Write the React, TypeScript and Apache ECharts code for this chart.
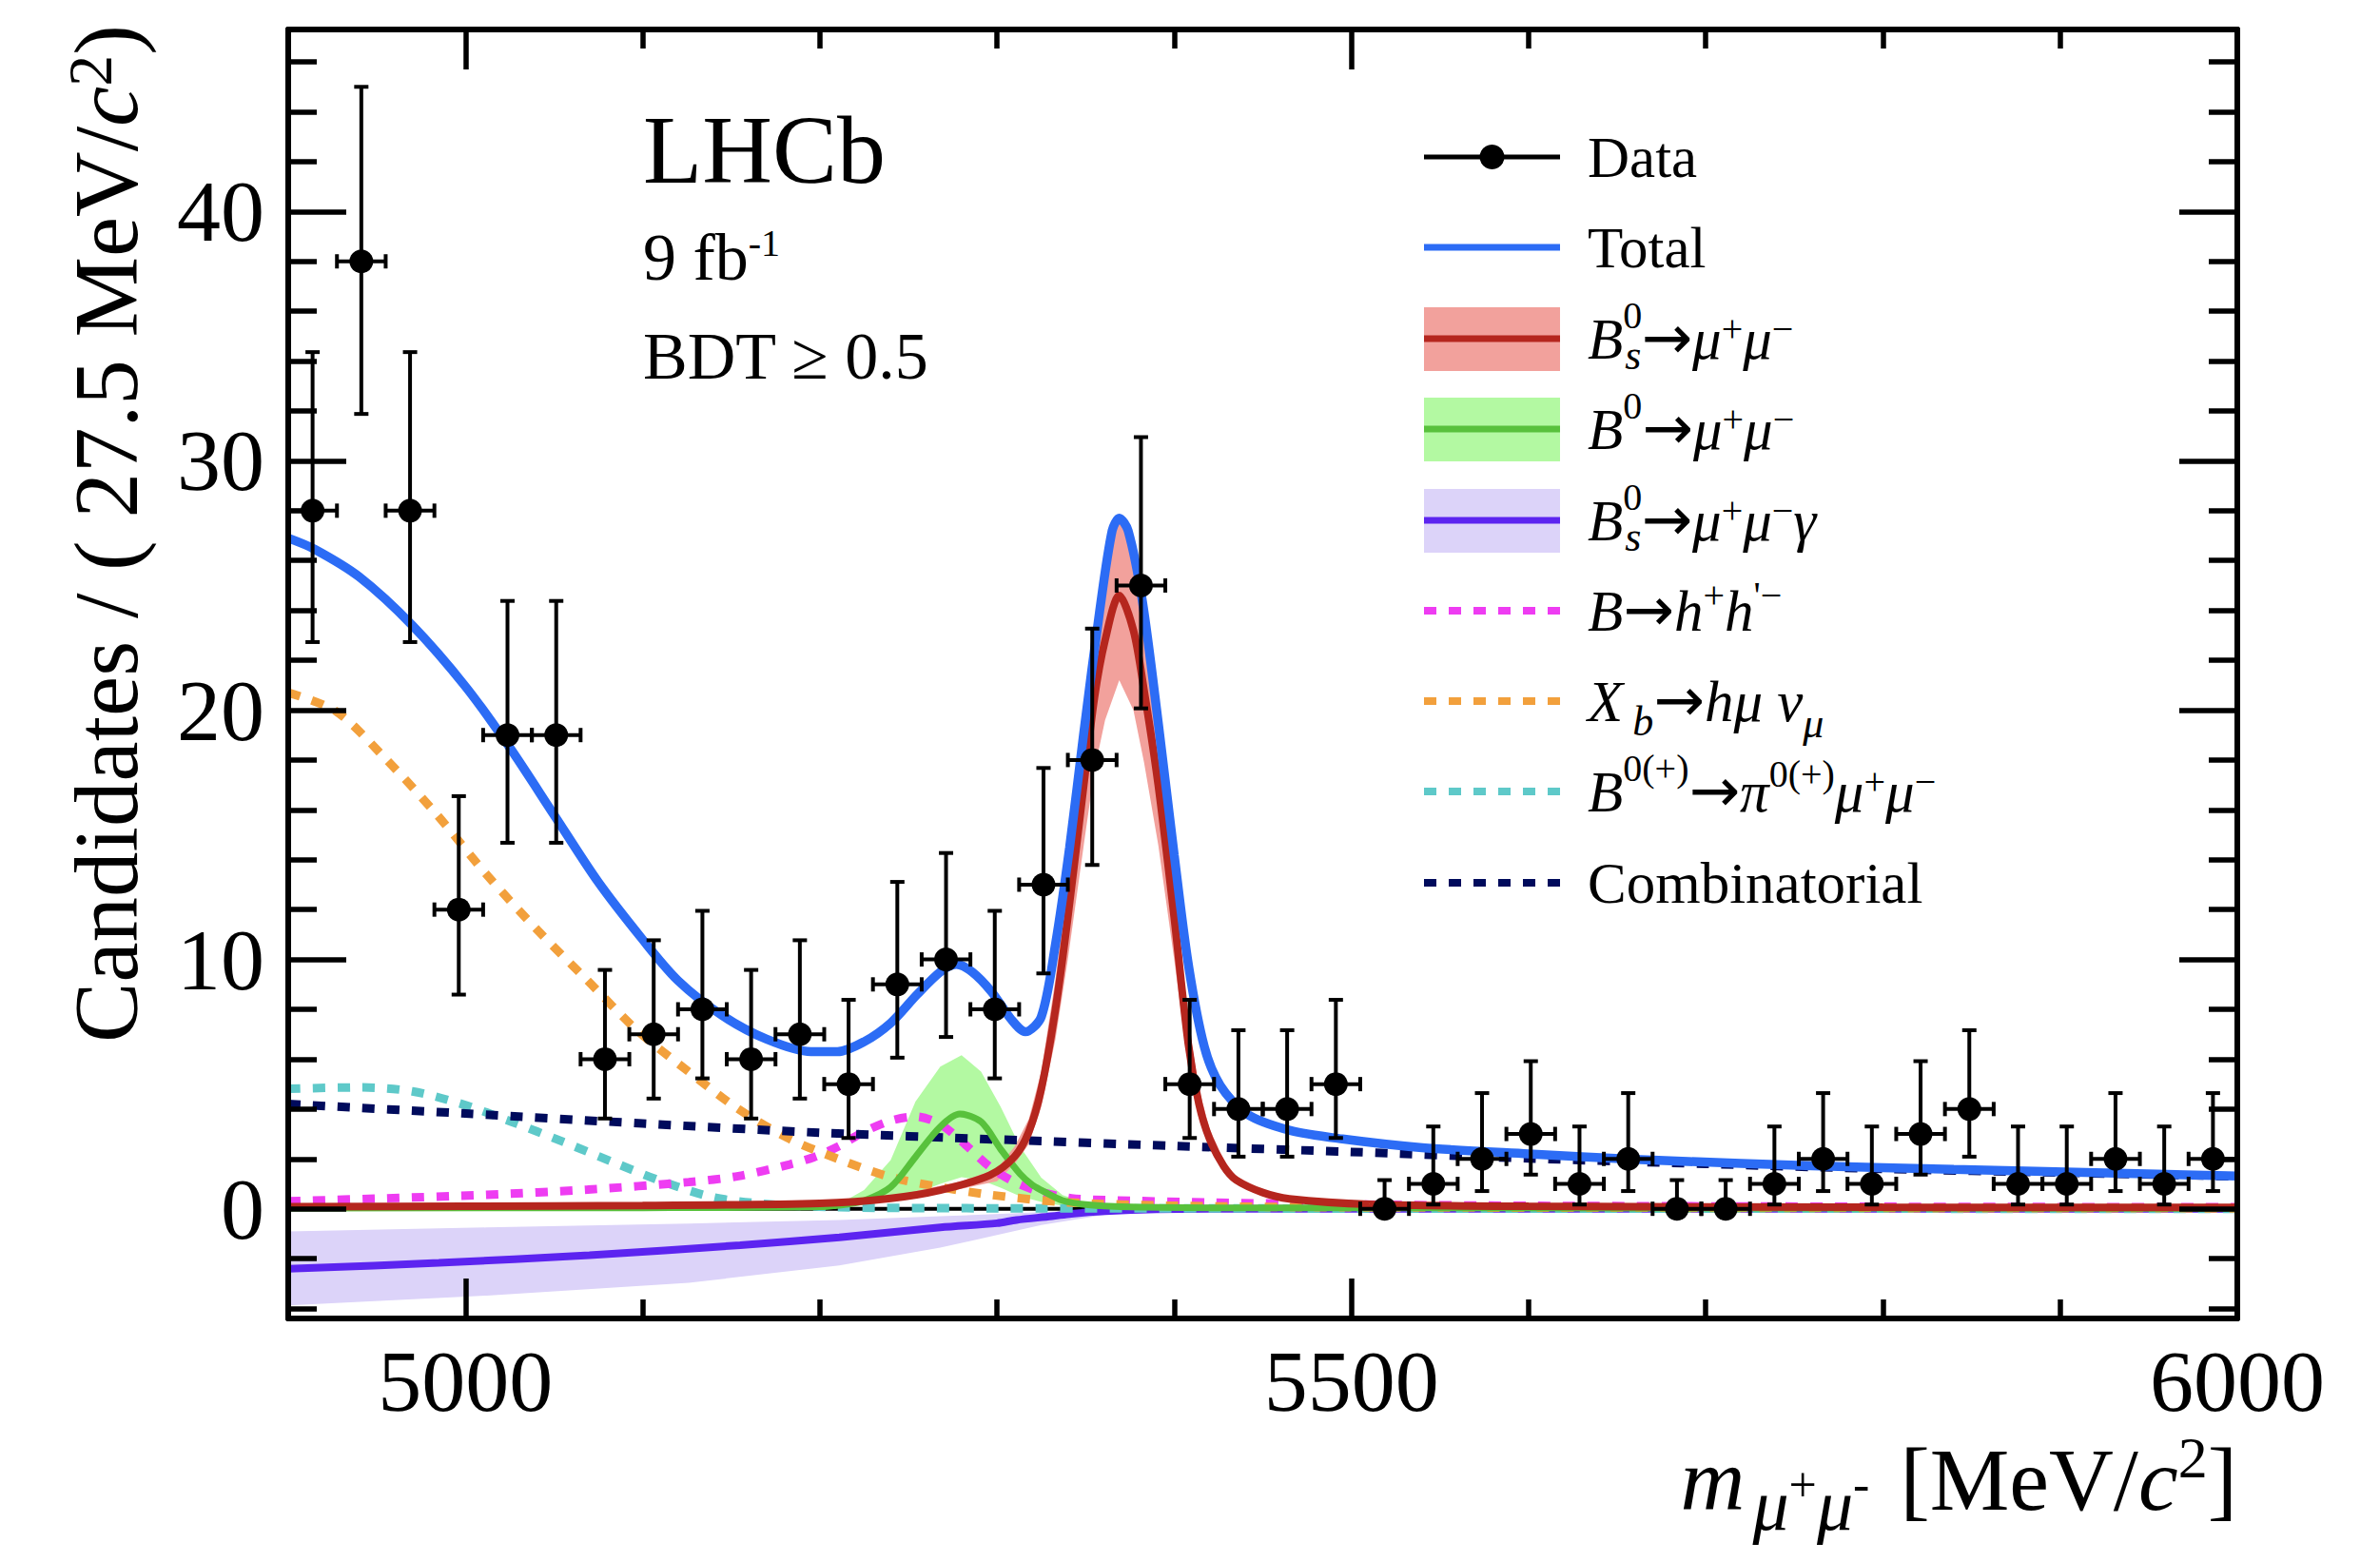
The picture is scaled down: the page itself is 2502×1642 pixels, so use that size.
import React, { useEffect, useRef } from "react";
import * as echarts from "echarts";

const FONT = "'Liberation Serif', 'Times New Roman', serif";
const ARROW_FONT = "'DejaVu Sans', 'Liberation Serif', serif";

// ---- axes ----
const X_MIN = 4900;
const X_MAX = 6000;
const Y_MIN = -4.4;
const Y_MAX = 47.3;
const X_MAJOR = [5000, 5500, 6000];
const X_MINOR = [5100, 5200, 5300, 5400, 5600, 5700, 5800, 5900];
const Y_MAJOR = [0, 10, 20, 30, 40];
const Y_MINOR = [-4, -2, 2, 4, 6, 8, 12, 14, 16, 18, 22, 24, 26, 28, 32, 34, 36, 38, 42, 44, 46];
const BIN_HALF = 13.75;

// ---- data (27.5 MeV bins) ----
const binCenters = [
  4913.75, 4941.25, 4968.75, 4996.25, 5023.75, 5051.25, 5078.75, 5106.25, 5133.75, 5161.25,
  5188.75, 5216.25, 5243.75, 5271.25, 5298.75, 5326.25, 5353.75, 5381.25, 5408.75, 5436.25,
  5463.75, 5491.25, 5518.75, 5546.25, 5573.75, 5601.25, 5628.75, 5656.25, 5683.75, 5711.25,
  5738.75, 5766.25, 5793.75, 5821.25, 5848.75, 5876.25, 5903.75, 5931.25, 5958.75, 5986.25,
];
const counts = [28, 38, 28, 12, 19, 19, 6, 7, 8, 6, 7, 5, 9, 10, 8, 13, 18, 25, 5, 4, 4, 5, 0, 1, 2, 3, 1, 2, 0, 0, 1, 2, 1, 3, 4, 1, 1, 2, 1, 2];
const errLow = [22.73, 31.88, 22.73, 8.59, 14.68, 14.68, 3.62, 4.42, 5.23, 3.62, 4.42, 2.84, 6.06, 6.89, 5.23, 9.44, 13.79, 20.07, 2.84, 2.09, 2.09, 2.84, 0, 0.17, 0.71, 1.37, 0.17, 0.71, 0, 0, 0.17, 0.71, 0.17, 1.37, 2.09, 0.17, 0.17, 0.71, 0.17, 0.71];
const errHigh = [34.36, 45.0, 34.36, 16.55, 24.38, 24.38, 9.58, 10.77, 11.95, 9.58, 10.77, 8.38, 13.11, 14.27, 11.95, 17.68, 23.27, 30.95, 8.38, 7.16, 7.16, 8.38, 1.15, 3.3, 4.64, 5.92, 3.3, 4.64, 1.15, 1.15, 3.3, 4.64, 3.3, 5.92, 7.16, 3.3, 3.3, 4.64, 3.3, 4.64];

// ---- fit curves ----
const totalM = [4900, 4915, 4940, 4970, 5000, 5025, 5050, 5075, 5100, 5120, 5145, 5170, 5195, 5210, 5225, 5240, 5255, 5268, 5277, 5286, 5297, 5308, 5316, 5325, 5333, 5341, 5349, 5358, 5365, 5369, 5374, 5382, 5391, 5400, 5408, 5417, 5426, 5441, 5465, 5495, 5540, 5600, 5660, 5720, 5760, 5840, 5920, 6000];
const totalV = [26.9, 26.45, 25.35, 23.4, 20.95, 18.5, 15.8, 13.1, 10.8, 9.15, 7.75, 6.8, 6.3, 6.3, 6.7, 7.45, 8.6, 9.5, 9.8, 9.5, 8.7, 7.6, 7.1, 7.7, 10.6, 14.5, 19.1, 24.0, 27.2, 27.7, 27.2, 24.4, 19.5, 14.2, 9.8, 6.5, 4.95, 3.8, 3.15, 2.8, 2.45, 2.2, 1.98, 1.82, 1.72, 1.58, 1.45, 1.31];

const bsM = [4900, 5000, 5100, 5200, 5240, 5268, 5296, 5310, 5318, 5325, 5333, 5340, 5349, 5355, 5361, 5369, 5377, 5383, 5391, 5400, 5408, 5414, 5420, 5428, 5435, 5450, 5465, 5510, 5600, 5800, 6000];
const bsV = [0.08, 0.1, 0.13, 0.22, 0.42, 0.75, 1.35, 2.1, 3.1, 4.8, 8.0, 11.7, 17.0, 20.5, 22.8, 24.6, 23.2, 20.8, 17.0, 11.7, 6.6, 4.2, 2.8, 1.7, 1.15, 0.65, 0.4, 0.18, 0.1, 0.06, 0.05];
const bsBandM = [5250, 5280, 5300, 5310, 5318, 5325, 5333, 5340, 5349, 5355, 5361, 5369, 5377, 5383, 5391, 5400, 5408, 5414, 5420, 5428, 5435, 5450, 5465, 5520];
const bsBandLo = [0.5, 0.8, 1.1, 1.8, 2.6, 4.1, 6.8, 10.0, 14.6, 17.6, 19.6, 21.2, 20.0, 17.9, 14.6, 10.0, 5.7, 3.6, 2.4, 1.45, 1.0, 0.55, 0.34, 0.15];
const bsBandHi = [0.65, 1.1, 1.6, 2.5, 3.6, 5.5, 9.2, 13.3, 19.3, 23.2, 25.8, 27.9, 26.3, 23.6, 19.3, 13.3, 7.5, 4.8, 3.2, 1.95, 1.3, 0.75, 0.46, 0.2];

const b0M = [4900, 5100, 5200, 5215, 5225, 5240, 5254, 5268, 5279, 5291, 5302, 5313, 5320, 5325, 5337, 5350, 5370, 5420, 6000];
const b0V = [0.03, 0.04, 0.08, 0.18, 0.32, 0.87, 2.08, 3.29, 3.8, 3.49, 2.4, 1.4, 0.95, 0.75, 0.33, 0.17, 0.08, 0.04, 0.02];
const b0BandM = [5200, 5215, 5225, 5240, 5254, 5268, 5280, 5291, 5302, 5313, 5325, 5337, 5350, 5370];
const b0BandLo = [0.05, 0.12, 0.2, 0.35, 0.62, 1.0, 1.27, 1.15, 0.85, 0.5, 0.27, 0.12, 0.06, 0.03];
const b0BandHi = [0.12, 0.35, 0.75, 1.95, 4.3, 5.7, 6.16, 5.5, 4.1, 2.5, 1.25, 0.55, 0.25, 0.1];

const bsgM = [4900, 4985, 5070, 5155, 5211, 5268, 5300, 5311, 5331, 5342, 5361, 5390, 5420, 6000];
const bsgV = [-2.41, -2.17, -1.86, -1.46, -1.15, -0.75, -0.58, -0.45, -0.3, -0.2, -0.1, -0.02, 0, 0];
const bsgBandM = [4900, 5012, 5126, 5211, 5268, 5325, 5360, 5390, 5420];
const bsgBandLo = [-3.88, -3.48, -2.97, -2.27, -1.56, -0.65, -0.25, -0.05, 0];
const bsgBandHi = [-0.91, -0.75, -0.59, -0.45, -0.3, -0.14, -0.04, 0, 0];

const hhM = [4900, 4955, 5012, 5069, 5126, 5154, 5183, 5197, 5211, 5225, 5240, 5254, 5268, 5282, 5296, 5310, 5325, 5342, 5361, 5420, 5500, 5600, 5800, 6000];
const hhV = [0.3, 0.42, 0.56, 0.77, 1.07, 1.31, 1.78, 2.08, 2.52, 3.09, 3.53, 3.7, 3.39, 2.58, 1.68, 1.07, 0.67, 0.42, 0.35, 0.25, 0.17, 0.12, 0.08, 0.06];

const xbM = [4900, 4927, 4955, 4984, 5012, 5041, 5069, 5097, 5126, 5154, 5183, 5211, 5240, 5268, 5296, 5339, 5400, 5500, 6000];
const xbV = [20.7, 19.95, 18.05, 15.8, 13.4, 11.15, 9.15, 7.15, 5.5, 4.0, 2.8, 1.98, 1.27, 0.87, 0.56, 0.26, 0.12, 0.06, 0.02];

const piM = [4900, 4941, 4970, 4998, 5026, 5055, 5083, 5112, 5140, 5168, 5211, 5300, 6000];
const piV = [4.81, 4.87, 4.71, 4.2, 3.49, 2.69, 1.88, 1.07, 0.46, 0.2, 0.06, 0.02, 0];

const combM = [4900, 5000, 5100, 5200, 5300, 5400, 5500, 5600, 5700, 5800, 5900, 6000];
const combV = [4.2, 3.82, 3.42, 3.05, 2.78, 2.52, 2.28, 2.02, 1.8, 1.6, 1.45, 1.3];

const zeroM = [4900, 6000];
const zeroV = [0, 0];

// ---- colours ----
const C_TOTAL = "#2c6cf5";
const C_BS = "#b5261e";
const C_BS_BAND = "#f2a19c";
const C_B0 = "#58c13c";
const C_B0_BAND = "#b3f9a2";
const C_BSG = "#5c24f0";
const C_BSG_BAND = "#dcd3f9";
const C_HH = "#ee3cf2";
const C_XB = "#f2a03c";
const C_PI = "#5ec9c9";
const C_COMB = "#000b5c";
const DASH = [13, 13];

const pairs = (m: number[], v: number[]) => m.map((x, i) => [x, v[i]]);

function lineSeries(name: string, m: number[], v: number[], color: string, width: number, dashed: boolean, z: number, smooth = 0.3) {
  return {
    name,
    type: "line",
    data: pairs(m, v),
    symbol: "none",
    showSymbol: false,
    smooth,
    silent: true,
    z,
    lineStyle: { color, width, type: dashed ? DASH : "solid", cap: "butt" },
  };
}

function bandSeries(name: string, m: number[], lo: number[], hi: number[], color: string, z: number) {
  return {
    name,
    type: "custom",
    coordinateSystem: "cartesian2d",
    data: m.map((x, i) => [x, lo[i], hi[i]]),
    encode: { x: 0, y: [1, 2] },
    silent: true,
    z,
    renderItem: (params: any, api: any) => {
      if (params.dataIndex !== 0) return null;
      const pts: number[][] = [];
      for (let i = 0; i < m.length; i++) pts.push(api.coord([m[i], hi[i]]));
      for (let i = m.length - 1; i >= 0; i--) pts.push(api.coord([m[i], lo[i]]));
      return { type: "polygon", shape: { points: pts }, style: { fill: color }, silent: true };
    },
  };
}

const tickLine = { color: "#000", width: 5.5 };
const frameLine = { show: true, onZero: false, lineStyle: { color: "#000", width: 6 } };
const labelStyle = { fontFamily: FONT, fontSize: 92, color: "#000" };

function xAxisDef(position: string, values: number[], len: number, line: boolean, labels: boolean) {
  return {
    type: "value",
    position,
    min: X_MIN,
    max: X_MAX,
    z: 20,
    axisLine: line ? frameLine : { show: false, onZero: false },
    axisTick: { show: true, inside: true, length: len, customValues: values, lineStyle: tickLine },
    axisLabel: labels
      ? { show: true, customValues: values, margin: 20, formatter: (v: number) => String(v), ...labelStyle }
      : { show: false },
    splitLine: { show: false },
  };
}
function yAxisDef(position: string, values: number[], len: number, line: boolean, labels: boolean) {
  return {
    type: "value",
    position,
    min: Y_MIN,
    max: Y_MAX,
    z: 20,
    axisLine: line ? frameLine : { show: false, onZero: false },
    axisTick: { show: true, inside: true, length: len, customValues: values, lineStyle: tickLine },
    axisLabel: labels
      ? { show: true, customValues: values, margin: 25, formatter: (v: number) => String(v), ...labelStyle }
      : { show: false },
    splitLine: { show: false },
  };
}

// ---- legend (drawn with graphic) ----
const LEG_X0 = 1497;
const LEG_X1 = 1640;
const LEG_TX = 1669;
const LEG_Y = [165, 260, 356, 451, 547, 642, 737, 832, 928];

const R = (fs: number, extra: any = {}) => ({ fontFamily: FONT, fontSize: fs, lineHeight: fs, verticalAlign: "middle", fill: "#000", ...extra });
const legendRich = {
  i: R(61, { fontStyle: "italic" }),
  n: R(61),
  ar: R(64, { fontFamily: ARROW_FONT, lineHeight: 61, padding: [0, 0, 2, 0] }),
  sup: R(40, { padding: [0, 0, 50, 0] }),
  supw: R(40, { padding: [0, 0, 50, 0], width: 2 }),
  sub: R(44, { fontStyle: "italic", padding: [34, 0, 0, 0] }),
  sp: R(40, { padding: [0, 0, 22, 0] }),
  sp2: R(40, { padding: [0, 0, 34, 0] }),
  subb: R(44, { fontStyle: "italic", padding: [42, 0, 0, 10] }),
  subm: R(44, { fontStyle: "italic", padding: [46, 0, 0, 0] }),
  sup2: R(40, { padding: [0, 0, 38, 0] }),
};
const legendTexts = [
  "Data",
  "Total",
  "{i|B}{supw|0}{sub|s}{ar|→}{i|μ}{sp|+}{i|μ}{sp|−}",
  "{i|B}{sup|0}{ar|→}{i|μ}{sp|+}{i|μ}{sp|−}",
  "{i|B}{supw|0}{sub|s}{ar|→}{i|μ}{sp|+}{i|μ}{sp|−}{i|γ}",
  "{i|B}{ar|→}{i|h}{sp2|+}{i|h}{sp2|'−}",
  "{i|X}{subb|b}{ar|→}{i|hμ ν}{subm|μ}",
  "{i|B}{sup|0(+)}{ar|→}{i|π}{sup2|0(+)}{i|μ}{sp|+}{i|μ}{sp|−}",
  "Combinatorial",
];

function legendGraphics() {
  const els: any[] = [];
  const hline = (y: number, color: string, width: number, dash?: number[]) => ({
    type: "line",
    shape: { x1: LEG_X0, y1: y, x2: LEG_X1, y2: y },
    style: { stroke: color, lineWidth: width, lineDash: dash, lineCap: "butt" },
    z: 30,
  });
  const box = (y: number, color: string) => ({
    type: "rect",
    shape: { x: LEG_X0, y: y - 33, width: LEG_X1 - LEG_X0, height: 67 },
    style: { fill: color },
    z: 29,
  });
  els.push(hline(LEG_Y[0], "#000", 5));
  els.push({ type: "circle", shape: { cx: (LEG_X0 + LEG_X1) / 2, cy: LEG_Y[0], r: 13 }, style: { fill: "#000" }, z: 31 });
  els.push(hline(LEG_Y[1], C_TOTAL, 7));
  els.push(box(LEG_Y[2], C_BS_BAND), hline(LEG_Y[2], C_BS, 7));
  els.push(box(LEG_Y[3], C_B0_BAND), hline(LEG_Y[3], C_B0, 7));
  els.push(box(LEG_Y[4], C_BSG_BAND), hline(LEG_Y[4], C_BSG, 7));
  els.push(hline(LEG_Y[5], C_HH, 8, DASH));
  els.push(hline(LEG_Y[6], C_XB, 8, DASH));
  els.push(hline(LEG_Y[7], C_PI, 8, DASH));
  els.push(hline(LEG_Y[8], C_COMB, 8, DASH));
  legendTexts.forEach((t, k) => {
    els.push({
      type: "text",
      x: LEG_TX,
      y: LEG_Y[k],
      z: 31,
      style: { text: t, fontFamily: FONT, fontSize: 61, fill: "#000", align: "left", verticalAlign: "middle", rich: legendRich },
    });
  });
  return els;
}

function titleGraphics() {
  return [
    {
      type: "text",
      x: 676,
      y: 157,
      z: 31,
      style: { text: "LHCb", fontFamily: FONT, fontSize: 102, fill: "#000", align: "left", verticalAlign: "middle" },
    },
    {
      type: "text",
      x: 676,
      y: 270,
      z: 31,
      style: {
        text: "9 fb{sp|-1}",
        fontFamily: FONT,
        fontSize: 70,
        fill: "#000",
        align: "left",
        verticalAlign: "middle",
        rich: { sp: R(40, { padding: [0, 0, 30, 0] }) },
      },
    },
    {
      type: "text",
      x: 676,
      y: 374,
      z: 31,
      style: { text: "BDT ≥ 0.5", fontFamily: FONT, fontSize: 70, fill: "#000", align: "left", verticalAlign: "middle" },
    },
    {
      type: "text",
      x: 2352,
      y: 1555,
      z: 31,
      style: {
        text: "{mi|m}{sbi1|μ}{sbs|+}{sbi|μ}{sbs2|-}{n|[MeV/}{ci|c}{s2|2}{n|]}",
        fontFamily: FONT,
        fontSize: 92,
        fill: "#000",
        align: "right",
        verticalAlign: "middle",
        rich: {
          mi: R(94, { fontStyle: "italic" }),
          n: R(94),
          ci: R(94, { fontStyle: "italic" }),
          sbi1: R(76, { fontStyle: "italic", padding: [54, 0, 0, 8] }),
          sbi: R(76, { fontStyle: "italic", padding: [54, 0, 0, 0] }),
          sbs: R(52, { padding: [10, 0, 0, 0] }),
          sbs2: R(52, { padding: [10, 32, 0, 0] }),
          s2: R(62, { padding: [0, 0, 46, 0] }),
        },
      },
    },
    {
      type: "text",
      x: 112,
      y: 561,
      rotation: Math.PI / 2,
      z: 31,
      style: {
        text: "{n|Candidates / ( 27.5 MeV/}{ci|c}{s2|2}{n|)}",
        fontFamily: FONT,
        fontSize: 95,
        fill: "#000",
        align: "center",
        verticalAlign: "middle",
        rich: {
          n: R(95),
          ci: R(95, { fontStyle: "italic" }),
          s2: R(66, { padding: [0, 0, 36, 0] }),
        },
      },
    },
  ];
}

function buildOption() {
  return {
    animation: false,
    backgroundColor: "#ffffff",
    grid: { left: 303, right: 150, top: 31, bottom: 256, containLabel: false, outerBoundsMode: "none" },
    xAxis: [
      xAxisDef("bottom", X_MAJOR, 42, true, true),
      xAxisDef("bottom", X_MINOR, 20, false, false),
      xAxisDef("top", X_MAJOR, 42, true, false),
      xAxisDef("top", X_MINOR, 20, false, false),
    ],
    yAxis: [
      yAxisDef("left", Y_MAJOR, 61, true, true),
      yAxisDef("left", Y_MINOR, 30, false, false),
      yAxisDef("right", Y_MAJOR, 61, true, false),
      yAxisDef("right", Y_MINOR, 30, false, false),
    ],
    graphic: { elements: [...legendGraphics(), ...titleGraphics()] },
    series: [
      bandSeries("Bs→μμγ band", bsgBandM, bsgBandLo, bsgBandHi, C_BSG_BAND, 1),
      bandSeries("B0→μμ band", b0BandM, b0BandLo, b0BandHi, C_B0_BAND, 1),
      bandSeries("Bs→μμ band", bsBandM, bsBandLo, bsBandHi, C_BS_BAND, 1),
      lineSeries("zero", zeroM, zeroV, "#000", 4, false, 2, 0),
      lineSeries("Bs→μμγ", bsgM, bsgV, C_BSG, 8, false, 3),
      lineSeries("B0→πμμ", piM, piV, C_PI, 9, true, 3),
      lineSeries("B→hh", hhM, hhV, C_HH, 9, true, 3),
      lineSeries("Xb→hμν", xbM, xbV, C_XB, 9, true, 3),
      lineSeries("Combinatorial", combM, combV, C_COMB, 9, true, 3),
      lineSeries("B0→μμ", b0M, b0V, C_B0, 7, false, 3),
      lineSeries("Bs→μμ", bsM, bsV, C_BS, 8, false, 3),
      lineSeries("Total", totalM, totalV, C_TOTAL, 9.5, false, 4),
      {
        name: "Data errors",
        type: "custom",
        coordinateSystem: "cartesian2d",
        data: binCenters.map((x, i) => [x, counts[i], errLow[i], errHigh[i]]),
        encode: { x: 0, y: [1, 2, 3] },
        z: 5,
        silent: true,
        renderItem: (params: any, api: any) => {
          const x = api.value(0);
          const y = api.value(1);
          const lo = api.value(2);
          const hi = api.value(3);
          const top = api.coord([x, hi]);
          const bot = api.coord([x, lo]);
          const l = api.coord([x - BIN_HALF, y]);
          const r = api.coord([x + BIN_HALF, y]);
          const cap = 7.5;
          const st = { stroke: "#000", lineWidth: 4 };
          const ln = (x1: number, y1: number, x2: number, y2: number) => ({ type: "line", shape: { x1, y1, x2, y2 }, style: st });
          const children = [
            ln(top[0], top[1], bot[0], bot[1]),
            ln(l[0], l[1], r[0], r[1]),
            ln(top[0] - cap, top[1], top[0] + cap, top[1]),
            ln(l[0], l[1] - cap, l[0], l[1] + cap),
            ln(r[0], r[1] - cap, r[0], r[1] + cap),
          ];
          if (lo > 0) children.push(ln(bot[0] - cap, bot[1], bot[0] + cap, bot[1]));
          return { type: "group", children };
        },
      },
      {
        name: "Data",
        type: "scatter",
        data: pairs(binCenters, counts),
        symbol: "circle",
        symbolSize: 25,
        itemStyle: { color: "#000", opacity: 1 },
        silent: true,
        z: 6,
      },
    ],
  };
}

export default function App() {
  const ref = useRef<HTMLDivElement>(null);
  useEffect(() => {
    document.body.style.margin = "0";
    const chart = echarts.init(ref.current as HTMLDivElement, null, { renderer: "svg" });
    chart.setOption(buildOption() as any);
    return () => chart.dispose();
  }, []);
  return <div ref={ref} style={{ width: 2502, height: 1642, background: "#fff" }} />;
}
